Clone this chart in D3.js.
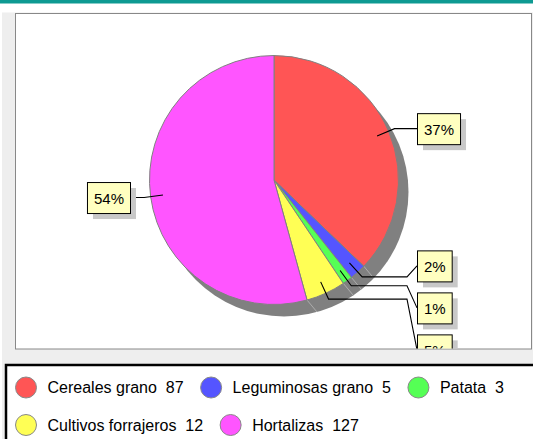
<!DOCTYPE html>
<html>
<head>
<meta charset="utf-8">
<script src="https://cdn.jsdelivr.net/npm/d3@7"></script>
<style>
  html, body { margin: 0; padding: 0; background: #fff; }
  svg { display: block; font-family: "Liberation Sans", Arial, sans-serif; }
</style>
</head>
<body>
<div id="chart"></div>
<script>
// data
var categories = ["Cereales grano", "Leguminosas grano", "Patata", "Cultivos forrajeros", "Hortalizas"];
var values = [87, 5, 3, 12, 127];
var colors = ["#ff5555", "#5555ff", "#55ff55", "#ffff55", "#ff55ff"];

var W = 533, H = 439;
var cx = 274, cy = 180, R = 124.5;
var shadowOff = [10, 12];

var svg = d3.select("#chart").append("svg")
	.attr("width", W)
	.attr("height", H);

// top bar and background
svg.append("rect").attr("x", 0).attr("y", 0).attr("width", W).attr("height", 3.5).attr("fill", "#0e9a92");
svg.append("rect").attr("x", 2).attr("y", 12.5).attr("width", W).attr("height", H).attr("fill", "#eeeeee");

// plot frame
var frame = {x: 15.5, y: 13.5, w: 516, h: 335.5};
svg.append("rect")
	.attr("x", frame.x).attr("y", frame.y)
	.attr("width", frame.w).attr("height", frame.h)
	.attr("fill", "#fff").attr("stroke", "#888").attr("stroke-width", 1);

svg.append("clipPath").attr("id", "plotclip")
	.append("rect")
	.attr("x", frame.x + 0.5).attr("y", frame.y + 0.5)
	.attr("width", frame.w - 1).attr("height", frame.h - 1);

var plot = svg.append("g").attr("clip-path", "url(#plotclip)");

var total = d3.sum(values);
var data = categories.map(function(c, i){ return {name: c, value: values[i], color: colors[i]}; });

var pie = d3.pie().sort(null).value(function(d){ return d.value; });
var arcs = pie(data);
var arc = d3.arc().innerRadius(0).outerRadius(R);

function pt(a, r){
	return [cx + r * Math.sin(a), cy - r * Math.cos(a)];
}

// shadow (extruded look)
plot.append("circle")
	.attr("cx", cx + shadowOff[0]).attr("cy", cy + shadowOff[1])
	.attr("r", R).attr("fill", "#808080");

plot.selectAll(".edge")
	.data(arcs)
	.enter().append("line")
	.attr("class", "edge")
	.attr("x1", function(d){ return pt(d.startAngle, R)[0]; })
	.attr("y1", function(d){ return pt(d.startAngle, R)[1]; })
	.attr("x2", function(d){ return pt(d.startAngle, R)[0] + shadowOff[0]; })
	.attr("y2", function(d){ return pt(d.startAngle, R)[1] + shadowOff[1]; })
	.attr("stroke", "#b8b8b8").attr("stroke-width", 0.8);

// slices
plot.append("g")
	.attr("transform", "translate(" + cx + "," + cy + ")")
	.selectAll("path")
	.data(arcs)
	.enter().append("path")
	.attr("d", arc)
	.attr("fill", function(d){ return d.data.color; })
	.attr("stroke", "#808080")
	.attr("stroke-width", 1);

// labels
var fmt = d3.format(".0%");
var boxH = 31, gap = 42, nudge = 11;
var labels = arcs.map(function(d){
	var mid = (d.startAngle + d.endAngle) / 2;
	var outer = pt(mid, R + 6.5);
	return {
		text: fmt(d.value / total),
		mid: mid,
		inner: pt(mid, R * 0.9),
		outer: outer,
		right: Math.sin(mid) > 0,
		y: outer[1]
	};
});

// stack labels on each side so boxes do not overlap
[true, false].forEach(function(side){
	var group = labels.filter(function(l){ return l.right == side; })
		.sort(function(a, b){ return a.y - b.y; });
	var run = [];
	for (var i = 0; i < group.length; i++) {
		if (i > 0 && group[i].y < group[i-1].y + gap) {
			group[i].y = group[i-1].y + gap;
			if (run.length == 0) run.push(group[i-1]);
			run.push(group[i]);
		}
	}
	run.forEach(function(l){ l.y -= nudge; });
});

var lg = plot.append("g");
labels.forEach(function(l){
	var g = lg.append("g");
	var t = g.append("text")
		.attr("font-size", 15)
		.attr("text-anchor", "middle")
		.text(l.text);
	var bw = t.node().getComputedTextLength() + 13;
	var bx = l.right ? cx + 143 : cx - 144 - bw;
	var elbowX = l.right ? cx + 133 : cx - 133;
	var edgeX = l.right ? bx : bx + bw;

	g.insert("path", "text")
		.attr("d", d3.line()([l.inner, l.outer, [elbowX, l.outer[1]], [edgeX, l.y]]))
		.attr("fill", "none").attr("stroke", "#000").attr("stroke-width", 1.1);
	g.insert("rect", "text")
		.attr("x", bx + 6).attr("y", l.y - boxH / 2 + 6)
		.attr("width", bw).attr("height", boxH)
		.attr("fill", "#c8c8c8");
	g.insert("rect", "text")
		.attr("x", bx + 0.5).attr("y", l.y - boxH / 2 + 0.5)
		.attr("width", bw).attr("height", boxH)
		.attr("fill", "#ffffc0").attr("stroke", "#000").attr("stroke-width", 1);
	t.attr("x", bx + 0.5 + bw / 2).attr("y", l.y + 6);
});

// legend
svg.append("rect")
	.attr("x", 6).attr("y", 365)
	.attr("width", W + 10).attr("height", 100)
	.attr("fill", "#fff").attr("stroke", "#000").attr("stroke-width", 2.5);

var legend = svg.append("g");
var lx = 15.5, ly = 387.5, rowH = 37.5, maxX = W - 8;
data.forEach(function(d){
	var item = legend.append("g");
	var txt = item.append("text")
		.attr("font-size", 16)
		.attr("dy", "0.35em")
		.attr("fill", "#000")
		.text(d.name + "\u00a0\u00a0" + d.value);
	var tw = txt.node().getComputedTextLength();
	if (lx + 32 + tw > maxX) {
		lx = 15.5;
		ly += rowH;
	}
	item.insert("circle", "text")
		.attr("cx", lx + 10.5).attr("cy", ly)
		.attr("r", 10.5)
		.attr("fill", d.color)
		.attr("stroke", "#888").attr("stroke-width", 1);
	txt.attr("x", lx + 32).attr("y", ly);
	lx += 32 + tw + 17;
});
</script>
</body>
</html>
